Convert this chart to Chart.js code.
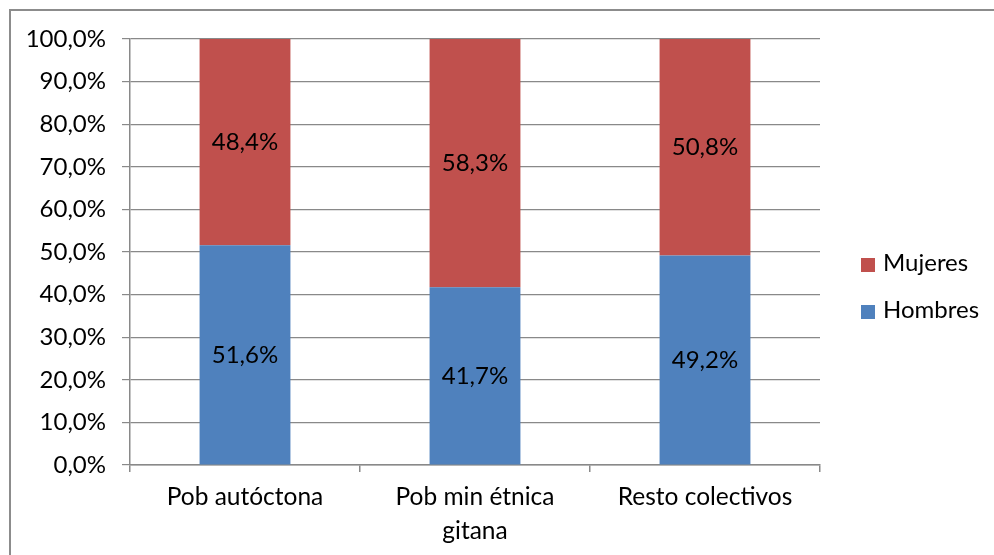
<!DOCTYPE html>
<html>
<head>
<meta charset="utf-8">
<script src="https://cdn.jsdelivr.net/npm/chart.js@4.4.1/dist/chart.umd.min.js"></script>
<style>
  html, body { margin: 0; background: #fff; overflow: hidden; }
  #wrap { position: relative; width: 994px; height: 555px; overflow: hidden; }
  #myChart { display: block; }
  #legend { position: absolute; left: 861px; top: 247px; font-family: Lato, sans-serif;
            font-size: 24px; color: #000; }
  #legend div { height: 47px; line-height: 30px; white-space: nowrap; }
  #legend span { display: inline-block; width: 14px; height: 14px; margin-right: 8px; vertical-align: -1px; }
</style>
</head>
<body>
<div id="wrap">
  <canvas id="myChart" width="994" height="555"></canvas>
  <div id="legend"></div>
</div>
<script>
const categories = ['Pob autóctona', ['Pob min étnica', 'gitana'], 'Resto colectivos'];
const hombres = [51.6, 41.7, 49.2];
const mujeres = [48.4, 58.3, 50.8];
const yTicks = [0, 10, 20, 30, 40, 50, 60, 70, 80, 90, 100];

const fmt = (v) => v.toFixed(1).replace('.', ',') + '%';

// outer chart border (top and left only are visible in the source)
const frame = {
    id: 'frame',
    beforeDraw: (chart) => {
        const ctx = chart.ctx;
        ctx.save();
        ctx.strokeStyle = '#8c8c8c';
        ctx.lineWidth = 2;
        ctx.beginPath();
        ctx.moveTo(10, chart.height + 5);
        ctx.lineTo(10, 10);
        ctx.lineTo(chart.width, 10);
        ctx.stroke();
        ctx.restore();
    }
};

const valueLabels = {
    id: 'valueLabels',
    afterDatasetsDraw: (chart) => {
        const ctx = chart.ctx;
        ctx.save();
        ctx.font = '24px Lato';
        ctx.fillStyle = '#000';
        ctx.textAlign = 'center';
        ctx.textBaseline = 'middle';
        chart.data.datasets.forEach((ds, i) => {
            chart.getDatasetMeta(i).data.forEach((bar, j) => {
                const mid = (bar.y + bar.base) / 2;
                ctx.fillText(fmt(ds.data[j]), bar.x, mid);
            });
        });
        ctx.restore();
    }
};

const chartData = {
    labels: categories,
    datasets: [{
        label: 'Hombres',
        backgroundColor: '#4f81bd',
        data: hombres
    }, {
        label: 'Mujeres',
        backgroundColor: '#c0504d',
        data: mujeres
    }]
};

const config = {
    type: 'bar',
    data: chartData,
    options: {
        responsive: false,
        animation: false,
        layout: { padding: { left: 10, right: 174, top: 39, bottom: 0 } },
        datasets: { bar: { barPercentage: 0.395, categoryPercentage: 1 } },
        plugins: {
            legend: { display: false },
            tooltip: { enabled: false }
        },
        scales: {
            x: {
                stacked: true,
                afterFit: (s) => { s.height = 90; },
                grid: { offset: true, drawOnChartArea: false, color: '#898989', tickLength: 7, lineWidth: 1.5 },
                border: { color: '#898989', width: 1.5 },
                ticks: { color: '#000', font: { family: 'Lato', size: 24.5, lineHeight: 1.4 }, padding: 8, maxRotation: 0 }
            },
            y: {
                stacked: true,
                min: 0,
                max: 100,
                afterFit: (s) => { s.width = 120; },
                afterBuildTicks: (s) => { s.ticks = yTicks.map(v => ({ value: v })); },
                grid: { color: '#898989', tickLength: 8, lineWidth: 1.2 },
                border: { color: '#898989', width: 1.5 },
                ticks: { color: '#000', font: { family: 'Lato', size: 24 }, padding: 16, callback: (v) => fmt(v) }
            }
        }
    },
    plugins: [frame, valueLabels]
};

const myChart = new Chart(document.getElementById('myChart'), config);

// legend, top to bottom in reverse dataset order
const legendEl = document.getElementById('legend');
chartData.datasets.slice().reverse().forEach((ds) => {
    const row = document.createElement('div');
    const box = document.createElement('span');
    box.style.background = ds.backgroundColor;
    row.appendChild(box);
    row.appendChild(document.createTextNode(ds.label));
    legendEl.appendChild(row);
});
</script>
</body>
</html>
